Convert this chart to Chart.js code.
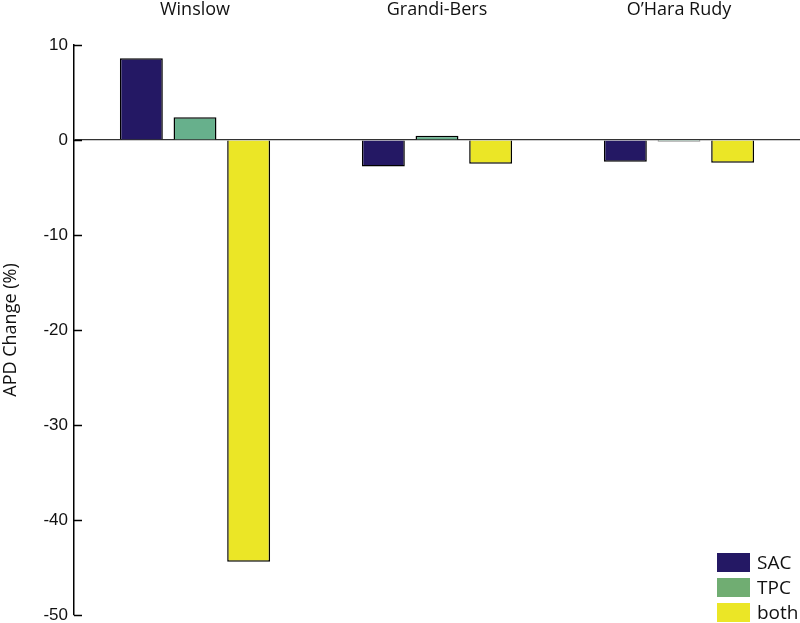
<!DOCTYPE html>
<html>
<head>
<meta charset="utf-8">
<script src="https://cdn.jsdelivr.net/npm/chart.js@4.4.0/dist/chart.umd.min.js"></script>
<style>
  html, body { margin: 0; padding: 0; background: #ffffff; }
  #wrap { width: 800px; height: 623px; position: relative; }
</style>
</head>
<body>
<div id="wrap"><canvas id="c" width="800" height="623"></canvas></div>
<script>
const categories = ["Winslow", "Grandi-Bers", "O\u2019Hara Rudy"];
const seriesNames = ["SAC", "TPC", "both"];
const sacValues = [8.6, -2.8, -2.3];
const tpcValues = [2.4, 0.45, -0.15];
const bothValues = [-44.4, -2.5, -2.4];
const yTickLabels = [10, 0, -10, -20, -30, -40, -50];

const colors = ["#241864", "#67B08C", "#EBE626"];
const legendColors = ["#241864", "#70AD72", "#EBE626"];

const insideTicks = {
  id: 'insideTicks',
  afterDraw(chart) {
    const y = chart.scales.y, ctx = chart.ctx, left = chart.chartArea.left;
    ctx.save();
    ctx.strokeStyle = '#000';
    ctx.lineWidth = 1.5;
    y.ticks.forEach((t, i) => {
      const py = Math.round(y.getPixelForTick(i)) + 0.5;
      ctx.beginPath();
      ctx.moveTo(left, py);
      ctx.lineTo(left + 8, py);
      ctx.stroke();
    });
    ctx.restore();
  }
};

const boxLegend = {
  id: 'boxLegend',
  afterDraw(chart) {
    const ctx = chart.ctx;
    ctx.save();
    const x0 = 717, y0 = 553, bw = 33, bh = 19, step = 25;
    ctx.font = '19px "Open Sans"';
    ctx.textBaseline = 'middle';
    chart.data.datasets.forEach((ds, i) => {
      ctx.fillStyle = legendColors[i];
      ctx.fillRect(x0, y0 + i * step, bw, bh);
      ctx.fillStyle = '#111';
      ctx.fillText(ds.label, x0 + bw + 7, y0 + i * step + bh / 2 + 1);
    });
    ctx.restore();
  }
};

new Chart(document.getElementById('c'), {
  type: 'bar',
  data: {
    labels: categories,
    datasets: [
      { label: seriesNames[0], data: sacValues, backgroundColor: colors[0] },
      { label: seriesNames[1], data: tpcValues, backgroundColor: colors[1] },
      { label: seriesNames[2], data: bothValues, backgroundColor: colors[2] }
    ]
  },
  options: {
    responsive: false,
    animation: false,
    devicePixelRatio: 1,
    layout: { padding: { top: 0, right: 0, bottom: 8, left: 0 } },
    datasets: {
      bar: {
        borderColor: '#000',
        borderWidth: 1.5,
        categoryPercentage: 0.665,
        barPercentage: 0.8
      }
    },
    plugins: {
      legend: { display: false },
      tooltip: { enabled: false }
    },
    scales: {
      x: {
        position: 'top',
        grid: { display: false, drawTicks: false },
        border: { display: false },
        afterFit(s) { s.height = 45; s.paddingLeft = 0; s.paddingRight = 0; },
        ticks: {
          color: '#111',
          padding: 24,
          font: { family: '"Open Sans"', size: 18 }
        }
      },
      y: {
        min: -50,
        max: 10,
        afterFit(s) { s.width = 74; s.paddingTop = 0; s.paddingBottom = 0; },
        afterBuildTicks(s) { s.ticks = yTickLabels.map(v => ({ value: v })); },
        grid: {
          drawTicks: false,
          lineWidth: 1.2,
          color: (c) => (c.tick && c.tick.value === 0) ? '#333' : 'rgba(0,0,0,0)'
        },
        border: { display: true, color: '#000', width: 1.5 },
        title: {
          display: true,
          text: 'APD Change (%)',
          color: '#111',
          padding: { top: 0, bottom: 0 },
          font: { family: '"Open Sans"', size: 18 }
        },
        ticks: {
          color: '#111',
          padding: 6,
          font: { family: '"Liberation Sans"', size: 17 },
          callback: (v) => String(v)
        }
      }
    }
  },
  plugins: [insideTicks, boxLegend]
});
</script>
</body>
</html>
